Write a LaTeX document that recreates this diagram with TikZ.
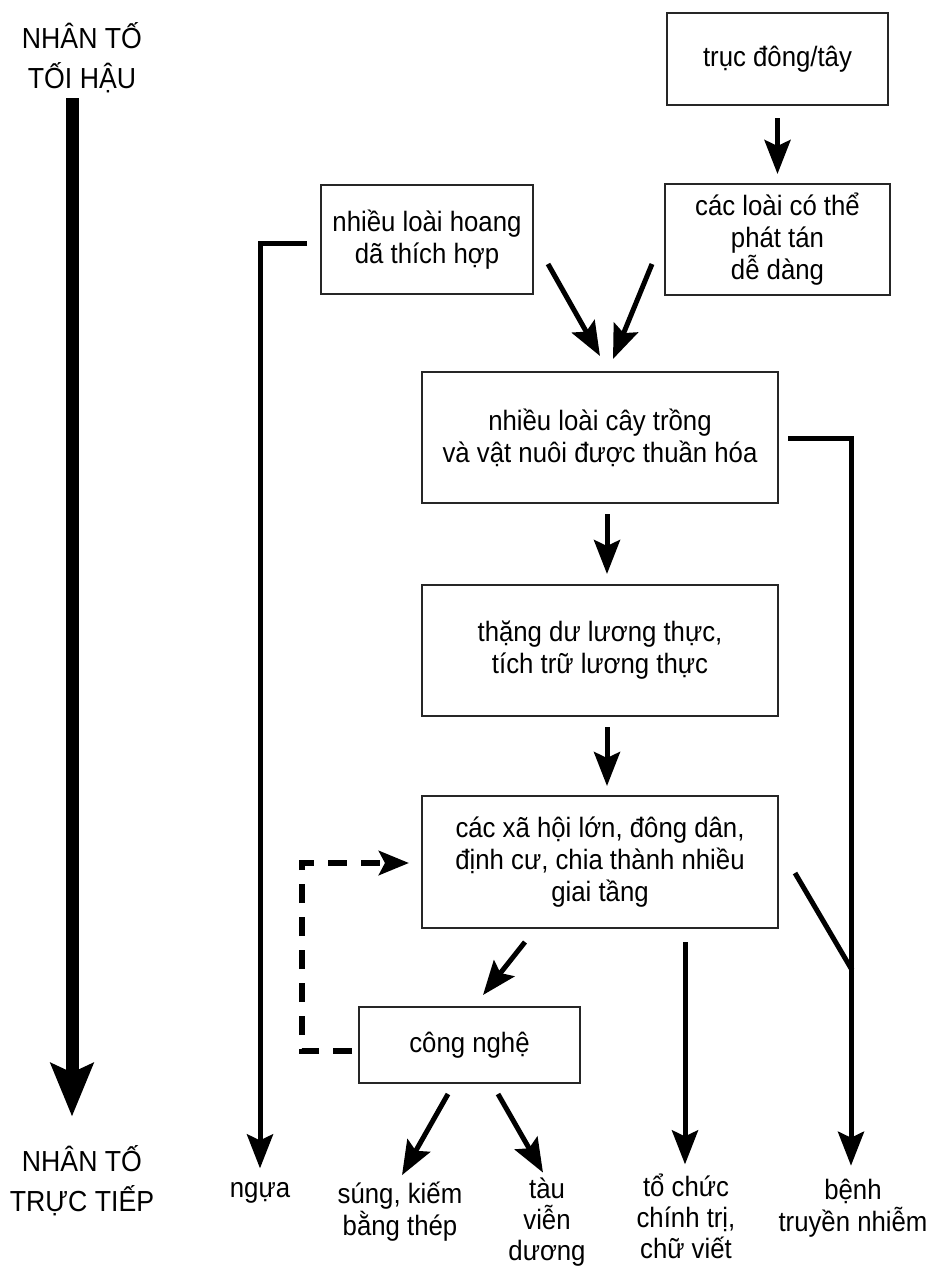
\documentclass[tikz,border=0pt]{standalone}
\usepackage{fontspec}
\setmainfont[FakeStretch=0.92]{Liberation Sans}
\usetikzlibrary{arrows.meta,calc}
\begin{document}
\begin{tikzpicture}[x=1pt,y=-1pt,
  box/.style={draw=black!85, line width=2pt, align=center, inner sep=0pt,
    font=\fontsize{28}{32}\selectfont},
  lbl/.style={align=center, inner sep=0pt, font=\fontsize{28}{32}\selectfont},
  lbltight/.style={align=center, inner sep=0pt, font=\fontsize{28}{31}\selectfont},
  caplbl/.style={align=center, inner sep=0pt, font=\fontsize{29}{40}\selectfont},
  arr/.style={line width=5pt, -{Stealth[length=34pt,width=26pt,inset=6pt]}},
  plain/.style={line width=5pt},
  dasharr/.style={line width=6pt, dash pattern=on 19pt off 14pt, miter limit=10,
    -{Stealth[length=30pt,width=24pt,inset=6pt]}},
  bigarr/.style={line width=13pt, -{Stealth[length=53pt,width=42pt,inset=9pt]}}
]
\useasboundingbox (0,0) rectangle (937,1267);

% boxes
\node[box, minimum width=221pt, minimum height=92pt] (top) at (777.5,59) {trục đông/tây};
\node[box, minimum width=225pt, minimum height=111pt] (disp) at (777.5,239.5) {các loài có thể\\phát tán\\dễ dàng};
\node[box, minimum width=212pt, minimum height=109pt] (wild) at (427,239.5) {nhiều loài hoang\\dã thích hợp};
\node[box, minimum width=356pt, minimum height=131pt] (dom) at (600,437.5) {nhiều loài cây trồng\\và vật nuôi được thuần hóa};
\node[box, minimum width=356pt, minimum height=131pt] (surplus) at (600,650.5) {thặng dư lương thực,\\tích trữ lương thực};
\node[box, minimum width=356pt, minimum height=132pt] (soc) at (600,862) {các xã hội lớn, đông dân,\\định cư, chia thành nhiều\\giai tầng};
\node[box, minimum width=221pt, minimum height=76pt] (tech) at (469.5,1045) {công nghệ};

% side labels
\node[caplbl] (ult) at (82,58) {NHÂN TỐ\\TỐI HẬU};
\node[caplbl] (prox) at (82,1181) {NHÂN TỐ\\TRỰC TIẾP};

% bottom labels
\node[lbl] (horse) at (260,1193) {ngựa};
\node[lbl] (gun) at (400,1212) {súng, kiếm\\bằng thép};
\node[lbltight] (ship) at (547,1222) {tàu\\viễn\\dương};
\node[lbltight] (pol) at (686,1216) {tổ chức\\chính trị,\\chữ viết};
\node[lbl] (dis) at (853,1208) {bệnh\\truyền nhiễm};

% helper coordinates
\coordinate (bigS) at ($(ult.south)+(-10,5)$);
\coordinate (polS) at ($(soc.south)+(85,13)$);

% big arrow
\draw[bigarr, shorten >=29pt] (bigS) -- (bigS |- prox.north);

% connectors
\draw[arr, shorten <=12pt, shorten >=9pt] (top.south) -- (disp.north);
\draw[arr] ($(wild.south east)+(14,-31)$) -- ($(dom.north)+(0,-15)$);
\draw[arr] ($(disp.south west)+(-12,-32)$) -- ($(dom.north)+(13,-12)$);
\draw[arr] ($(dom.south)+(7,10)$) -- ($(surplus.north)+(7,-10)$);
\draw[arr] ($(surplus.south)+(7,10)$) -- ($(soc.north)+(7,-9)$);
\draw[arr] ($(soc.south)+(-75,13)$) -- ($(tech.north)+(13.5,-11)$);
\draw[arr] ($(tech.south)+(-21.5,10)$) -- ($(gun.north)+(2,-7)$);
\draw[arr] ($(tech.south)+(28.5,10)$) -- ($(ship.north)+(-4,-5)$);
\draw[arr, shorten >=9pt] (polS) -- (polS |- pol.north);
\draw[arr, line join=miter] ($(wild.west)+(-13,3.5)$) -| ($(horse.north)+(0,-14)$);
\draw[arr, line join=miter] ($(dom.east)+(9,0.5)$) -| ($(dis.north)+(-2,-13)$);
\draw[plain] ($(soc.east)+(16,11)$) -- ($(soc.east)+(73,108)$);
\draw[dasharr, line join=miter] ($(tech.west)+(-6,6)$) -| ($(soc.west)+(-119,1)$) -- ($(soc.west)+(-12,1)$);
\end{tikzpicture}
\end{document}
